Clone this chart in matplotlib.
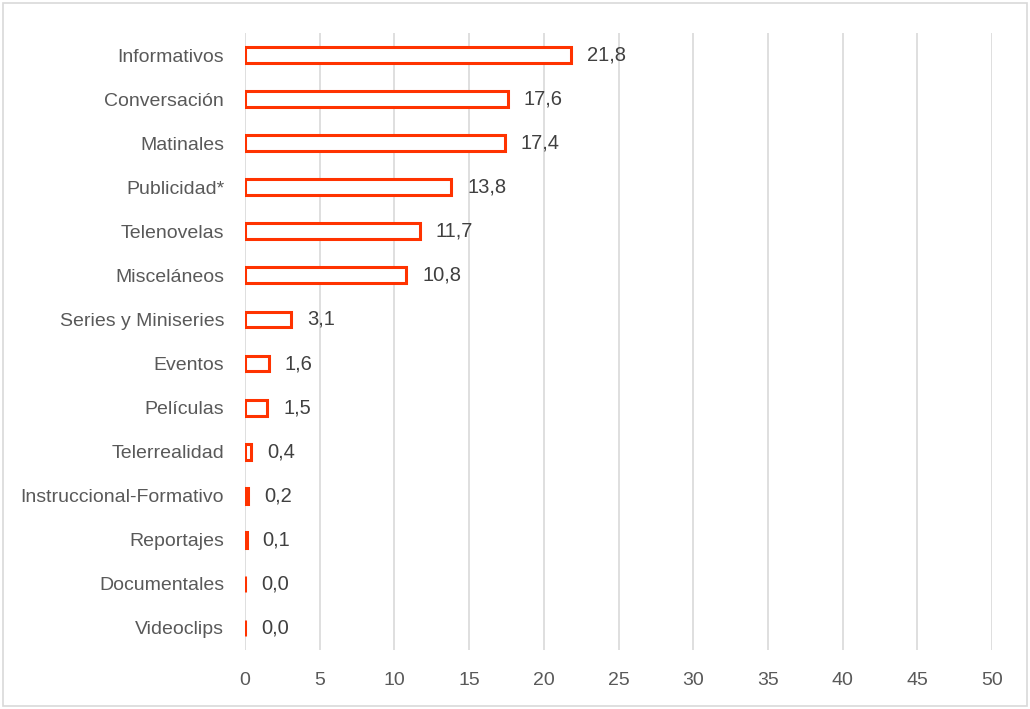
import matplotlib
matplotlib.use("Agg")
import matplotlib.pyplot as plt
from matplotlib import font_manager
from matplotlib.patches import Rectangle

categories = ["Informativos", "Conversación", "Matinales", "Publicidad*", "Telenovelas",
              "Misceláneos", "Series y Miniseries", "Eventos", "Películas", "Telerrealidad",
              "Instruccional-Formativo", "Reportajes", "Documentales", "Videoclips"]
values = [21.8, 17.6, 17.4, 13.8, 11.7, 10.8, 3.1, 1.6, 1.5, 0.4, 0.2, 0.1, 0.0, 0.0]
xticks = [0, 5, 10, 15, 20, 25, 30, 35, 40, 45, 50]

names = {f.name for f in font_manager.fontManager.ttflist}
fam = "Liberation Sans Narrow" if "Liberation Sans Narrow" in names else "Liberation Sans"
plt.rcParams['font.family'] = [fam, 'DejaVu Sans']

fig = plt.figure(figsize=(10.30, 7.09), dpi=100)
ax = fig.add_axes([0.2379, 0.0832, 0.9631 - 0.2379, 0.9535 - 0.0832])

red = "#FF3300"
ypos = list(range(len(categories)))
ax.barh(ypos, values, height=0.36, facecolor="white", edgecolor=red, linewidth=2.2, zorder=3)
for y, v in zip(ypos, values):
    ax.annotate(f"{v:.1f}".replace(".", ","), (v, y), xytext=(16, 0), textcoords="offset pixels",
                ha="left", va="center", fontsize=14.5, color="#404040")

ax.set_ylim(len(categories) - 0.5, -0.5)
ax.set_xlim(0, 50)
ax.set_xticks(xticks)
ax.set_xticklabels([str(t) for t in xticks])
ax.set_yticks(ypos)
ax.set_yticklabels(categories)
ax.tick_params(axis="both", length=0, labelsize=14, labelcolor="#595959")
ax.tick_params(axis="y", pad=15)
ax.tick_params(axis="x", pad=16)
for s in ax.spines.values():
    s.set_visible(False)
ax.xaxis.grid(True, color="#D9D9D9", linewidth=1.2, zorder=0)
ax.set_axisbelow(True)

fig.patches.append(Rectangle((0.003, 0.004), 0.994, 0.992, transform=fig.transFigure,
                             fill=False, edgecolor="#D9D9D9", linewidth=1.2))
fig.savefig("out.png", dpi=100)
